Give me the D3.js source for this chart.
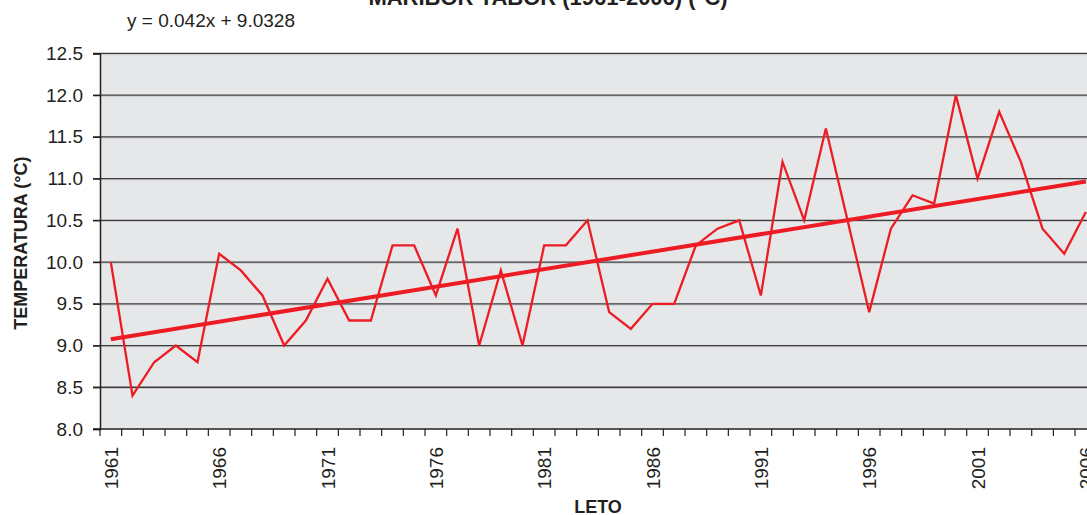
<!DOCTYPE html>
<html>
<head>
<meta charset="utf-8">
<script src="https://cdn.jsdelivr.net/npm/d3@7"></script>
<style>
    html, body { margin: 0; padding: 0; background: #fff; overflow: hidden; }
    svg { display: block; }
    .tick-label { font-family: "Liberation Sans Narrow", "Arial Narrow", "Liberation Sans", Arial, sans-serif; fill: #231f20; }
    .title { font-family: "Liberation Sans", Arial, sans-serif; font-weight: bold; fill: #231f20; }
</style>
</head>
<body>
<div id="chart"></div>
<script>
// Yearly mean temperature, Maribor Tabor
const years = d3.range(1961, 2007);
const temps = [
    10.0, 8.4, 8.8, 9.0, 8.8, 10.1, 9.9, 9.6, 9.0, 9.3,
    9.8, 9.3, 9.3, 10.2, 10.2, 9.6, 10.4, 9.0, 9.9, 9.0,
    10.2, 10.2, 10.5, 9.4, 9.2, 9.5, 9.5, 10.2, 10.4, 10.5,
    9.6, 11.2, 10.5, 11.6, 10.5, 9.4, 10.4, 10.8, 10.7, 12.0,
    11.0, 11.8, 11.2, 10.4, 10.1, 10.6
];
const yTicks = [8.0, 8.5, 9.0, 9.5, 10.0, 10.5, 11.0, 11.5, 12.0, 12.5];
const xLabelYears = [1961, 1966, 1971, 1976, 1981, 1986, 1991, 1996, 2001, 2006];
const trendSlope = 0.042;
const trendIntercept = 9.0328;

const width = 1087, height = 515;
const plot = { left: 100, top: 53.4, right: 1096.7, bottom: 429 };
const red = '#ed1c24';

const svg = d3.select('#chart').append('svg')
    .attr('width', width)
    .attr('height', height);

const x = d3.scaleBand()
    .domain(years)
    .range([plot.left, plot.right]);

const y = d3.scaleLinear()
    .domain([8, 12.5])
    .range([plot.bottom, plot.top]);

const cx = d => x(d) + x.bandwidth() / 2;

// plot background
svg.append('rect')
    .attr('x', plot.left)
    .attr('y', plot.top)
    .attr('width', plot.right - plot.left)
    .attr('height', plot.bottom - plot.top)
    .attr('fill', '#e6e7e9');

// gridlines (dark line with a light shadow below)
const grid = svg.append('g');
grid.selectAll('line.shadow')
    .data(yTicks.slice(1))
    .join('line')
    .attr('x1', plot.left).attr('x2', plot.right)
    .attr('y1', d => y(d) + 1.2).attr('y2', d => y(d) + 1.2)
    .attr('stroke', '#c9cacc')
    .attr('stroke-width', 1);
grid.selectAll('line.major')
    .data(yTicks.slice(1))
    .join('line')
    .attr('x1', plot.left - 7).attr('x2', plot.right)
    .attr('y1', d => y(d)).attr('y2', d => y(d))
    .attr('stroke', '#3c3c3e')
    .attr('stroke-width', 1.3);

// y axis
const yAxis = svg.append('g')
    .attr('transform', `translate(${plot.left},0)`)
    .call(d3.axisLeft(y).tickValues(yTicks).tickFormat(d3.format('.1f')).tickSize(7).tickPadding(10));
yAxis.select('.domain').attr('stroke', '#231f20').attr('stroke-width', 1.5);
yAxis.selectAll('.tick line').attr('stroke', '#231f20').attr('stroke-width', 1.3);
yAxis.selectAll('.tick text')
    .attr('class', 'tick-label')
    .style('font-size', '19px');

// x axis: ticks at category boundaries
const xAxisG = svg.append('g');
xAxisG.append('line')
    .attr('x1', plot.left - 7).attr('x2', plot.right)
    .attr('y1', plot.bottom).attr('y2', plot.bottom)
    .attr('stroke', '#231f20').attr('stroke-width', 1.5);
xAxisG.selectAll('line.xtick')
    .data(years.concat([2007]))
    .join('line')
    .attr('x1', (d, i) => plot.left + i * x.bandwidth())
    .attr('x2', (d, i) => plot.left + i * x.bandwidth())
    .attr('y1', plot.bottom).attr('y2', plot.bottom + 7)
    .attr('stroke', '#231f20').attr('stroke-width', 1.2);
xAxisG.selectAll('text')
    .data(xLabelYears)
    .join('text')
    .attr('class', 'tick-label')
    .attr('transform', d => `translate(${cx(d) + 7},${plot.bottom + 18}) rotate(-90)`)
    .attr('text-anchor', 'end')
    .style('font-size', '19px')
    .text(d => d);

// data line
svg.append('path')
    .datum(temps)
    .attr('fill', 'none')
    .attr('stroke', red)
    .attr('stroke-width', 2.3)
    .attr('stroke-linejoin', 'miter')
    .attr('d', d3.line().x((d, i) => cx(years[i])).y(d => y(d)));

// linear trend
const trend = [1, years.length].map(i => ({ yr: years[i - 1], v: trendSlope * i + trendIntercept }));
svg.append('path')
    .datum(trend)
    .attr('fill', 'none')
    .attr('stroke', red)
    .attr('stroke-width', 4)
    .attr('d', d3.line().x(d => cx(d.yr)).y(d => y(d.v)));

// texts
svg.append('text')
    .attr('class', 'title')
    .attr('x', 548).attr('y', 5)
    .attr('text-anchor', 'middle')
    .style('font-size', '22px')
    .text('MARIBOR TABOR (1961-2006) (°C)');

svg.append('text')
    .attr('class', 'tick-label')
    .attr('x', 127).attr('y', 27)
    .style('font-size', '19px')
    .text('y = 0.042x + 9.0328');

svg.append('text')
    .attr('class', 'title')
    .attr('transform', `translate(27,${(plot.top + plot.bottom) / 2 + 2}) rotate(-90)`)
    .attr('text-anchor', 'middle')
    .style('font-size', '18px')
    .text('TEMPERATURA (°C)');

svg.append('text')
    .attr('class', 'title')
    .attr('x', 598).attr('y', 513)
    .attr('text-anchor', 'middle')
    .style('font-size', '18px')
    .text('LETO');
</script>
</body>
</html>
